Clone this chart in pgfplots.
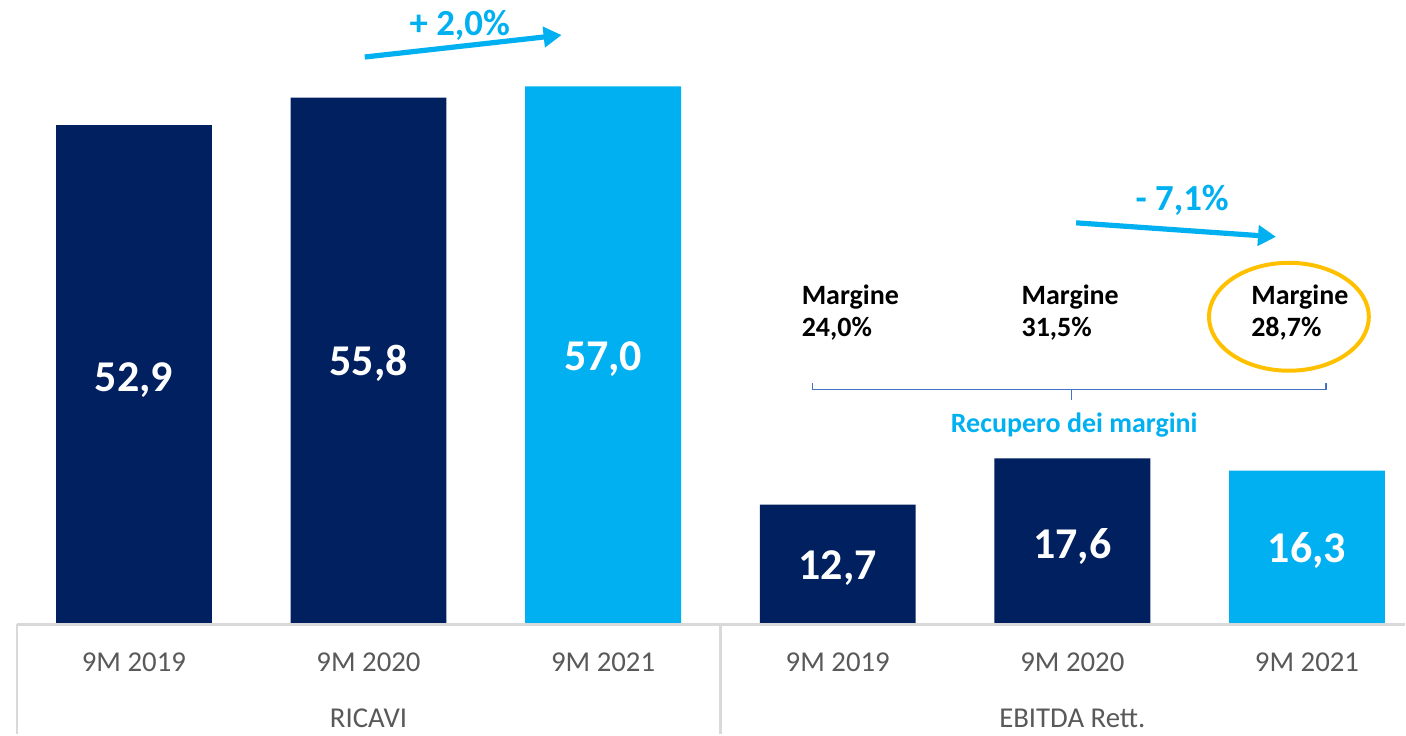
\documentclass[border=0pt]{standalone}
\usepackage{fontspec}
\setmainfont{Carlito}
\usepackage{pgfplots}
\pgfplotsset{compat=1.18}
\usetikzlibrary{arrows.meta}

\definecolor{navy}{HTML}{002060}
\definecolor{sky}{HTML}{00B0F0}
\definecolor{gold}{HTML}{FFC000}
\definecolor{txtgray}{HTML}{595959}
\definecolor{linegray}{HTML}{D9D9D9}
\definecolor{brack}{HTML}{4472C4}

\begin{document}
\begin{tikzpicture}
\begin{axis}[
  scale only axis,
  width=703pt, height=367.5pt,
  xmin=-0.5707, xmax=5.417,
  ymin=-11.64, ymax=66.14,
  hide axis,
  ybar, bar width=0.664,
  clip=false,
]
% keep the full axis area as the bounding box
\path (rel axis cs:0,0) rectangle (rel axis cs:1,1);

% RICAVI and EBITDA Rett., 9M 2019 / 2020
\addplot[fill=navy, draw=none, bar shift=0pt] coordinates {
  (0,52.9)(1,55.8)(3,12.7)(4,17.6)
};
% 9M 2021
\addplot[fill=sky, draw=none, bar shift=0pt] coordinates {
  (2,57.0)(5,16.3)
};

% value labels inside bars
\begin{scope}[every node/.style={text=white, font=\fontsize{22}{24}\selectfont\bfseries}]
\node at (axis cs:0,25.9) {52,9};
\node at (axis cs:1,27.7) {55,8};
\node at (axis cs:2,28.1) {57,0};
\node at (axis cs:3,6.0) {12,7};
\node at (axis cs:4,8.3) {17,6};
\node at (axis cs:5,7.8) {16,3};
\end{scope}

% category axis
\draw[linegray, line width=1.2pt] (axis cs:-0.498,0) -- (axis cs:5.417,0);
\draw[linegray, line width=1.2pt] (axis cs:-0.498,0) -- (axis cs:-0.498,-11.64);
\draw[linegray, line width=1.2pt] (axis cs:2.5,0) -- (axis cs:2.5,-11.64);
\begin{scope}[every node/.style={text=txtgray, font=\fontsize{14.4}{16}\selectfont}]
\node at (axis cs:0,-4.05) {9M 2019};
\node at (axis cs:1,-4.05) {9M 2020};
\node at (axis cs:2,-4.05) {9M 2021};
\node at (axis cs:3,-4.05) {9M 2019};
\node at (axis cs:4,-4.05) {9M 2020};
\node at (axis cs:5,-4.05) {9M 2021};
\node at (axis cs:1,-9.95) {RICAVI};
\node at (axis cs:4,-9.95) {EBITDA Rett.};
\end{scope}

% growth arrows
\draw[sky, line width=2.6pt, -{Triangle[length=9pt,width=10pt]}]
  (axis cs:0.984,60.1) -- (axis cs:1.823,62.43);
\node[text=sky, font=\fontsize{18.4}{20}\selectfont\bfseries] at (axis cs:1.389,63.5) {+ 2,0\%};
\draw[sky, line width=2.6pt, -{Triangle[length=9pt,width=10pt]}]
  (axis cs:4.016,42.54) -- (axis cs:4.868,41.06);
\node[text=sky, font=\fontsize{18.4}{20}\selectfont\bfseries] at (axis cs:4.468,44.97) {- 7,1\%};

% margins
\begin{scope}[every node/.style={anchor=west, align=left, inner sep=0pt, font=\fontsize{14}{16}\selectfont\bfseries}]
\node at (axis cs:2.845,33.0) {Margine\\24,0\%};
\node at (axis cs:3.782,33.0) {Margine\\31,5\%};
\node at (axis cs:4.761,33.0) {Margine\\28,7\%};
\end{scope}
\draw[gold, line width=2pt] (axis cs:4.923,32.59) ellipse [x radius=40pt, y radius=27pt];

% bracket
\draw[brack, line width=0.6pt] (axis cs:2.892,25.6) -- (axis cs:2.892,24.87)
  -- (axis cs:5.081,24.87) -- (axis cs:5.081,25.6);
\draw[brack, line width=0.6pt] (axis cs:3.995,24.87) -- (axis cs:3.995,23.8);
\node[text=sky, font=\fontsize{14}{16}\selectfont\bfseries] at (axis cs:4.008,21.16) {Recupero dei margini};
\end{axis}
\end{tikzpicture}
\end{document}
